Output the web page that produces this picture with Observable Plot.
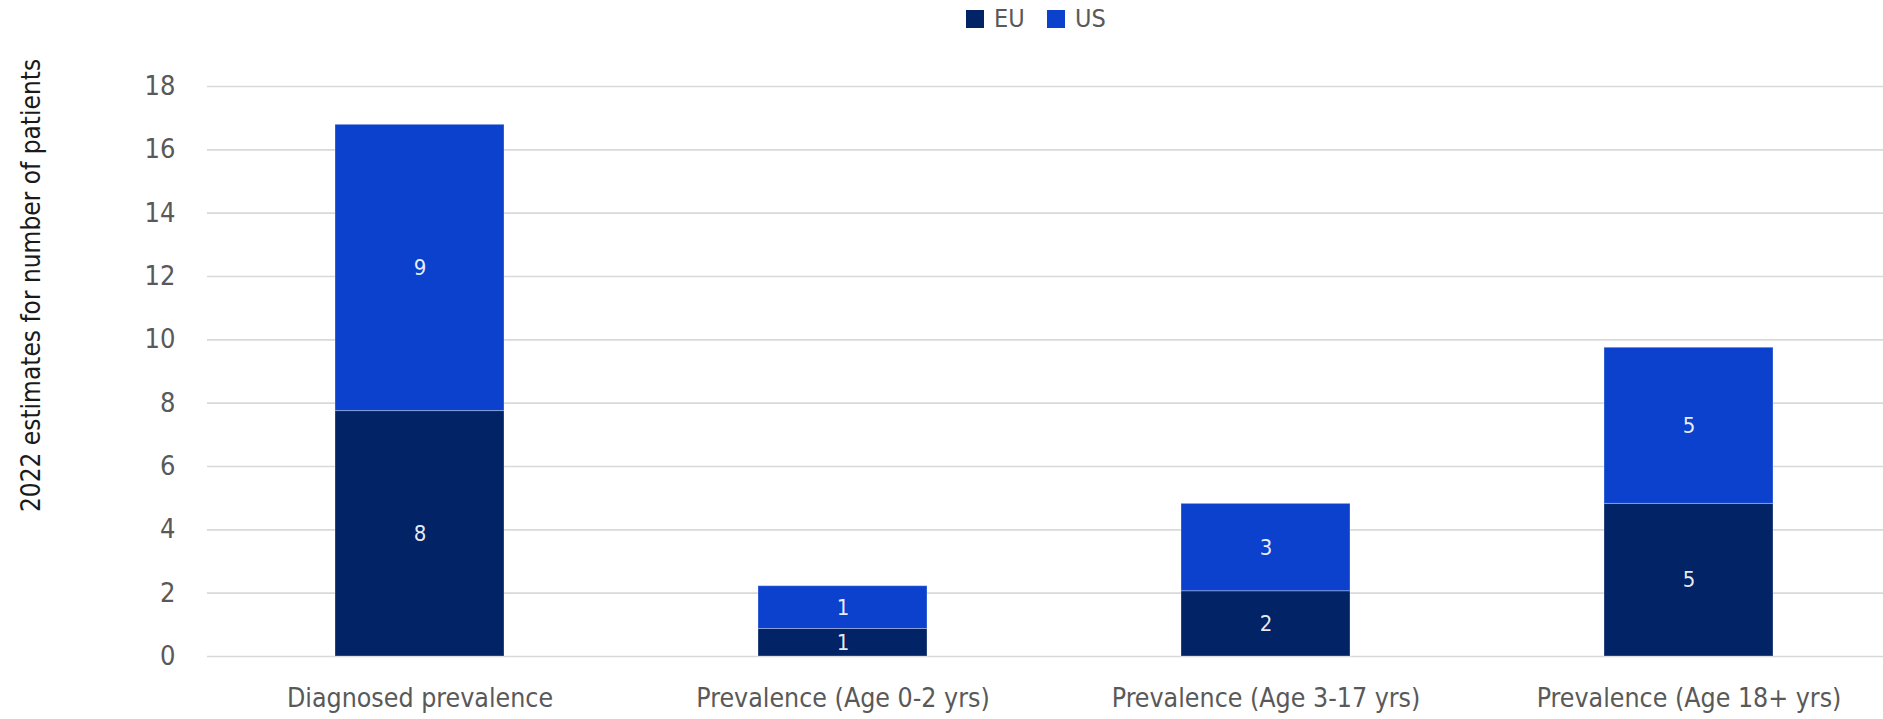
<!DOCTYPE html>
<html>
<head>
<meta charset="utf-8">
<script src="https://cdn.jsdelivr.net/npm/d3@7"></script>
<script src="https://cdn.jsdelivr.net/npm/@observablehq/plot@0.6"></script>
<style>
  html, body { margin: 0; padding: 0; background: #ffffff; }
  body { font-family: "Liberation Sans Narrow", "DejaVu Sans Condensed", "Roboto", sans-serif; }
  #legend { position: relative; height: 38px; width: 1883px; }
  #legend .item { position: absolute; top: 4px; display: flex; align-items: center; height: 30px; }
  #legend .sw { width: 18px; height: 18px; margin-right: 10px; }
  #legend .lbl { font-size: 25px; color: #595959; line-height: 30px; }
  #chart svg { display: block; }
</style>
</head>
<body>
<div id="legend"></div>
<div id="chart"></div>
<script>
// ---- data ----
const categories = [
  "Diagnosed prevalence",
  "Prevalence (Age 0-2 yrs)",
  "Prevalence (Age 3-17 yrs)",
  "Prevalence (Age 18+ yrs)"
];
const seriesNames = ["EU", "US"];
const euValues = [7.75, 0.87, 2.06, 4.82];
const usValues = [9.04, 1.35, 2.76, 4.93];
const yTicks = [0, 2, 4, 6, 8, 10, 12, 14, 16, 18];
const seriesColors = ["#022366", "#0B41CD"];
const yTitle = "2022 estimates for number of patients";

// ---- table for Plot ----
const rows = [];
categories.forEach((c, i) => {
  rows.push({category: c, series: seriesNames[0], value: euValues[i]});
  rows.push({category: c, series: seriesNames[1], value: usValues[i]});
});

// ---- legend ----
const legend = document.getElementById("legend");
const legendLefts = [966, 1047];
seriesNames.forEach((s, i) => {
  const item = document.createElement("div");
  item.className = "item";
  item.style.left = legendLefts[i] + "px";
  const sw = document.createElement("div");
  sw.className = "sw";
  sw.style.background = seriesColors[i];
  const lbl = document.createElement("span");
  lbl.className = "lbl";
  lbl.textContent = s;
  item.appendChild(sw);
  item.appendChild(lbl);
  legend.appendChild(item);
});

const FONT = '"Liberation Sans Narrow", "DejaVu Sans Condensed", "Roboto", sans-serif';

const chart = Plot.plot({
  width: 1883,
  height: 681,
  marginLeft: 207,
  marginRight: 0,
  marginTop: 48,
  marginBottom: 63,
  style: {fontFamily: FONT, background: "#ffffff", overflow: "visible"},
  x: {type: "band", domain: categories, range: [207, 1901], paddingInner: 0.6, paddingOuter: 0.3, align: 0.5},
  y: {domain: [0, 18], range: [618, 48]},
  color: {domain: seriesNames, range: seriesColors},
  marks: [
    Plot.ruleY(yTicks, {stroke: "#d9d9d9", strokeWidth: 1.6}),
    Plot.barY(rows, {
      x: "category", y: "value", fill: "series",
      stroke: "#ffffff", strokeOpacity: 0.3, strokeWidth: 1
    }),
    Plot.text(rows, Plot.stackY({
      x: "category", y: "value", z: "series",
      text: d => String(Math.round(d.value)),
      fill: "#ffffff", fillOpacity: 0.92,
      fontSize: 22, fontWeight: 300
    })),
    Plot.axisY({
      ticks: yTicks, tickSize: 0, tickPadding: 32,
      fontSize: 27, fill: "#595959", label: null
    }),
    Plot.axisX({
      tickSize: 0, tickPadding: 32, fontSize: 26.5, fill: "#595959", label: null
    }),
    Plot.text([yTitle], {
      text: d => d, frameAnchor: "left", rotate: -90,
      dx: -176, dy: -86, fontSize: 26, fill: "#1a1a1a",
      textAnchor: "middle", lineAnchor: "middle"
    })
  ]
});
document.getElementById("chart").appendChild(chart);
</script>
</body>
</html>
